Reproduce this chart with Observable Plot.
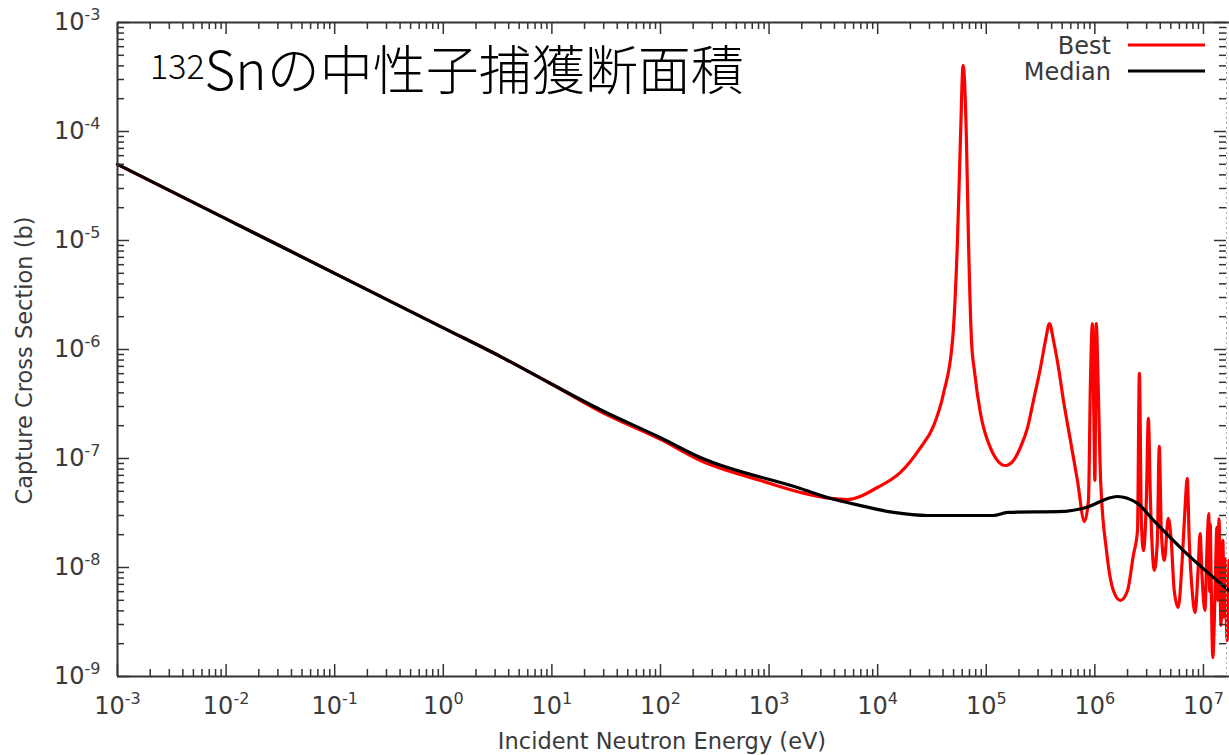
<!DOCTYPE html>
<html><head><meta charset="utf-8">
<script src="https://cdn.jsdelivr.net/npm/d3@7"></script>
<script src="https://cdn.jsdelivr.net/npm/@observablehq/plot@0.6"></script>
<style>body{margin:0;background:#fff;} #chart{width:1229px;height:755px;}</style>
</head><body><div id="chart"></div>
<script>
// ---- data ----
const bestEnergy = [1e-3,1e-2,1e-1,1,3.37,10,28,100,233,834,1950,3670,5270,9950,1.62e4,2.48e4,3.26e4,4.04e4,4.89e4,5.43e4,5.78e4,6.12e4,6.57e4,6.86e4,7.31e4,7.79e4,8.85e4,1.09e5,1.50e5,1.78e5,2.06e5,2.40e5,2.72e5,3.16e5,3.51e5,3.82e5,4.16e5,4.62e5,5.14e5,5.96e5,6.91e5,8.02e5,8.73e5,9.11e5,9.5e5,9.8e5,1.0e6,1.03e6,1.07e6,1.13e6,1.28e6,1.48e6,1.72e6,2.0e6,2.26e6,2.47e6,2.57e6,2.68e6,2.80e6,2.98e6,3.11e6,3.25e6,3.53e6,3.76e6,3.92e6,4.09e6,4.36e6,4.74e6,5.05e6,5.38e6,5.86e6,6.37e6,6.79e6,7.09e6,7.40e6,7.87e6,8.38e6,8.92e6,9.31e6,9.7e6,1.03e7,1.08e7,1.12e7,1.14e7,1.155e7,1.17e7,1.22e7,1.28e7,1.33e7,1.36e7,1.39e7,1.45e7,1.51e7,1.545e7,1.58e7,1.65e7,1.72e7];
const bestSigma = [5.0e-5,1.58e-5,5.0e-6,1.58e-6,8.6e-7,4.8e-7,2.7e-7,1.5e-7,9.6e-8,6.28e-8,4.88e-8,4.30e-8,4.2e-8,5.42e-8,7.45e-8,1.26e-7,1.97e-7,3.95e-7,1.21e-6,1.0e-5,8.26e-5,4.04e-4,8.26e-5,1.0e-5,1.21e-6,6.3e-7,2.59e-7,1.26e-7,8.63e-8,9.6e-8,1.26e-7,1.92e-7,3.4e-7,6.84e-7,1.21e-6,1.73e-6,1.21e-6,6.84e-7,3.4e-7,1.46e-7,6.28e-8,2.64e-8,4.12e-8,5.2e-7,1.73e-6,2.23e-7,6.28e-8,1.73e-6,5.2e-7,6.28e-8,1.43e-8,6.15e-9,4.98e-9,6.15e-9,1.29e-8,2.18e-8,6.03e-7,2.7e-8,1.43e-8,4.12e-8,2.33e-7,4.12e-8,9.4e-9,1.77e-8,1.29e-7,2.18e-8,1.16e-8,2.82e-8,1.77e-8,6.15e-9,4.3e-9,1.16e-8,3.71e-8,6.56e-8,1.77e-8,6.15e-9,3.86e-9,9.4e-9,2.05e-8,8.45e-9,4.04e-9,1.59e-8,3.13e-8,6.0e-9,2.5e-8,1.16e-8,1.49e-9,6.15e-9,2.33e-8,5.0e-9,2.8e-8,2.94e-9,1.77e-8,3.5e-9,1.2e-8,2.14e-9,1.16e-8];
const medianEnergy = [1e-3,1e-2,1e-1,1,3.37,10,28,100,233,1945,3450,6950,1.40e4,2.88e4,1.16e5,1.57e5,5.14e5,7.85e5,1.61e6,2.47e6,3.47e6,6.55e6,1.73e7];
const medianSigma = [5.0e-5,1.58e-5,5.0e-6,1.58e-6,8.6e-7,4.8e-7,2.8e-7,1.55e-7,1.02e-7,5.31e-8,4.39e-8,3.7e-8,3.2e-8,3.0e-8,3.0e-8,3.2e-8,3.27e-8,3.5e-8,4.48e-8,3.87e-8,2.7e-8,1.43e-8,6.1e-9];
const seriesNames = ["Best", "Median"];
const seriesColors = ["#ff0000", "#000000"];
const xDecades = [-3,-2,-1,0,1,2,3,4,5,6,7];
const yDecades = [-9,-8,-7,-6,-5,-4,-3];
const xLabel = "Incident Neutron Energy (eV)";
const yLabel = "Capture Cross Section (b)";
const titleSup = "132";
const titleMain = "Snの中性子捕獲断面積";

// ---- layout ----
const W = 1229, H = 755, mL = 117, mR = 3, mT = 22, mB = 79;
const innerW = W - mL - mR, innerH = H - mT - mB;
const xMax = 1.63e7;
const textColor = "#3a3a3a", axisColor = "#333";
const font = "'DejaVu Sans', sans-serif";

const best = bestEnergy.map((e, i) => ({E: e, s: bestSigma[i]}));
const median = medianEnergy.map((e, i) => ({E: e, s: medianSigma[i]}));

const xMajor = xDecades.map(k => Math.pow(10, k));
const yMajor = yDecades.map(k => Math.pow(10, k));
const xMinor = [], yMinor = [];
for (const k of xDecades) for (let m = 2; m < 10; m++) { const v = m * Math.pow(10, k); if (v <= xMax) xMinor.push(v); }
for (const k of yDecades.slice(0, -1)) for (let m = 2; m < 10; m++) yMinor.push(m * Math.pow(10, k));

const majL = 12, minL = 7;
const tickStyle = {stroke: axisColor, strokeWidth: 1.5};

const plot = Plot.plot({
  width: W, height: H,
  marginLeft: mL, marginRight: mR, marginTop: mT, marginBottom: mB,
  x: {type: "log", domain: [1e-3, xMax], axis: null},
  y: {type: "log", domain: [1e-9, 1e-3], axis: null},
  style: {fontFamily: font, background: "#fff", overflow: "visible"},
  marks: [
    Plot.line(best, {x: "E", y: "s", stroke: seriesColors[0], strokeWidth: 3.2, strokeLinejoin: "round", curve: "monotone-x"}),
    Plot.line(median, {x: "E", y: "s", stroke: seriesColors[1], strokeWidth: 3.2, strokeLinejoin: "round", curve: "monotone-x"}),
    // frame
    Plot.ruleX([1e-3], {stroke: axisColor, strokeWidth: 2}),
    Plot.ruleX([xMax], {stroke: "#aaa", strokeWidth: 1, strokeDasharray: "2,3"}),
    Plot.ruleY([1e-9, 1e-3], {stroke: axisColor, strokeWidth: 2, insetRight: -3}),
    // ticks bottom/top
    Plot.tickX(xMajor, {x: d => d, insetTop: innerH - majL, ...tickStyle}),
    Plot.tickX(xMinor, {x: d => d, insetTop: innerH - minL, ...tickStyle}),
    Plot.tickX(xMajor, {x: d => d, insetBottom: innerH - majL, ...tickStyle}),
    Plot.tickX(xMinor, {x: d => d, insetBottom: innerH - minL, ...tickStyle}),
    // ticks left/right
    Plot.tickY(yMajor, {y: d => d, insetRight: innerW - majL, ...tickStyle}),
    Plot.tickY(yMinor, {y: d => d, insetRight: innerW - minL, ...tickStyle}),
    Plot.tickY(yMajor, {y: d => d, insetLeft: innerW - majL, ...tickStyle}),
    Plot.tickY(yMinor, {y: d => d, insetLeft: innerW - minL, ...tickStyle}),
    // tick labels
    Plot.text(xDecades, {x: d => Math.pow(10, d), frameAnchor: "bottom", dy: 37, lineAnchor: "bottom", textAnchor: "middle",
      text: d => "10^" + d, fill: textColor, fontSize: 24}),
    Plot.text(yDecades, {y: d => Math.pow(10, d), frameAnchor: "left", dx: -17, textAnchor: "end",
      text: d => "10^" + d, fill: textColor, fontSize: 24}),
    // axis titles
    Plot.text([xLabel], {frameAnchor: "bottom", dx: -10, dy: 72, lineAnchor: "bottom", textAnchor: "middle", text: d => d,
      fill: textColor, fontSize: 22.5}),
    Plot.text([yLabel], {frameAnchor: "left", dx: -86, dy: 11, rotate: -90, lineAnchor: "bottom", textAnchor: "middle", text: d => d,
      fill: textColor, fontSize: 22.5})
  ]
});

document.getElementById("chart").appendChild(plot);

// superscripts in tick labels ("10^k" -> 10 with raised k)
plot.querySelectorAll("text").forEach(t => {
  if (t.children.length || !t.textContent.includes("^")) return;
  const [b, e] = t.textContent.split("^");
  t.textContent = b;
  const ts = document.createElementNS("http://www.w3.org/2000/svg", "tspan");
  ts.setAttribute("font-size", 16);
  ts.setAttribute("dy", -10);
  ts.textContent = e;
  t.appendChild(ts);
});

const svg = d3.select(plot);
// title
const title = svg.append("text")
  .attr("x", 150).attr("y", 79)
  .attr("text-anchor", "start")
  .attr("font-family", "'Noto Sans CJK JP', 'Noto Sans', sans-serif")
  .attr("font-weight", 300)
  .attr("fill", "#000");
title.append("tspan").attr("font-size", 34).text(titleSup);
title.append("tspan").attr("font-size", 53).attr("dy", 11).text(titleMain);

// legend
const legY = [45, 71];
seriesNames.forEach((n, i) => {
  svg.append("text").attr("x", 1111).attr("y", legY[i] + 9)
    .attr("text-anchor", "end").attr("font-family", font).attr("font-size", 24)
    .attr("fill", textColor).text(n);
  svg.append("line").attr("x1", 1128).attr("x2", 1205).attr("y1", legY[i]).attr("y2", legY[i])
    .attr("stroke", seriesColors[i]).attr("stroke-width", 3);
});
</script>
</body></html>
